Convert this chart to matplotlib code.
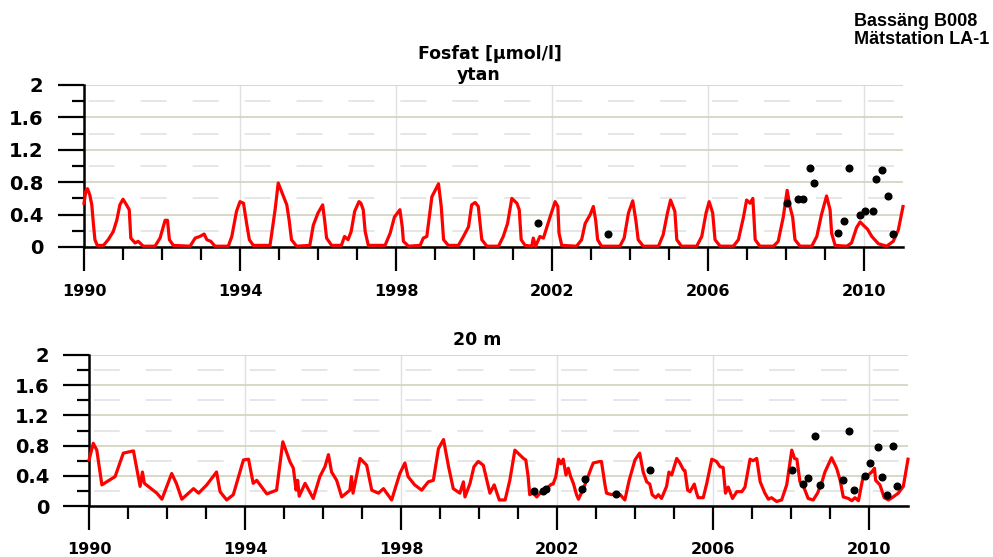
import matplotlib as mpl
mpl.use('Agg')
import matplotlib.pyplot as plt
from matplotlib.ticker import FuncFormatter, MultipleLocator

plt.rcParams['font.family'] = ['DejaVu Sans']
plt.rcParams['font.weight'] = 'bold'
plt.rcParams['lines.scale_dashes'] = False

# modelled surface phosphate (decimal year, umol/l)
top_t = [1990.0, 1990.05, 1990.09, 1990.15, 1990.2, 1990.24, 1990.28, 1990.34, 1990.5, 1990.62,
         1990.75, 1990.84, 1990.92, 1991.0, 1991.09, 1991.16, 1991.2, 1991.31, 1991.39, 1991.52,
         1991.82, 1991.95, 1992.08, 1992.14, 1992.19, 1992.29, 1992.72, 1992.85, 1992.97, 1993.08,
         1993.15, 1993.25, 1993.36, 1993.7, 1993.79, 1993.91, 1994.0, 1994.09, 1994.17, 1994.24,
         1994.34, 1994.77, 1994.9, 1994.98, 1995.07, 1995.2, 1995.26, 1995.32, 1995.45, 1995.79,
         1995.88, 1996.0, 1996.12, 1996.17, 1996.22, 1996.35, 1996.6, 1996.68, 1996.77, 1996.85,
         1996.94, 1997.05, 1997.1, 1997.16, 1997.21, 1997.29, 1997.72, 1997.85, 1997.96, 1998.1,
         1998.16, 1998.19, 1998.32, 1998.62, 1998.7, 1998.79, 1998.92, 1999.09, 1999.16, 1999.22,
         1999.34, 1999.6, 1999.73, 1999.86, 1999.94, 2000.03, 2000.11, 2000.2, 2000.33, 2000.63,
         2000.75, 2000.86, 2000.97, 2001.1, 2001.16, 2001.21, 2001.31, 2001.48, 2001.52, 2001.58,
         2001.69, 2001.78, 2001.95, 2002.08, 2002.15, 2002.18, 2002.25, 2002.63, 2002.76, 2002.85,
         2002.98, 2003.06, 2003.12, 2003.17, 2003.27, 2003.74, 2003.85, 2003.96, 2004.07, 2004.15,
         2004.21, 2004.34, 2004.73, 2004.85, 2004.96, 2005.04, 2005.15, 2005.2, 2005.32, 2005.71,
         2005.84, 2005.95, 2006.03, 2006.12, 2006.18, 2006.31, 2006.65, 2006.78, 2006.91, 2006.99,
         2007.08, 2007.15, 2007.21, 2007.33, 2007.68, 2007.8, 2007.93, 2008.03, 2008.1, 2008.17,
         2008.23, 2008.36, 2008.66, 2008.79, 2008.91, 2009.04, 2009.13, 2009.17, 2009.26, 2009.56,
         2009.68, 2009.81, 2009.9, 2009.98, 2010.09, 2010.2, 2010.37, 2010.58, 2010.75, 2010.88,
         2011.0]
top_v = [0.54, 0.70, 0.72, 0.64, 0.52, 0.29, 0.09, 0.02, 0.02, 0.09,
         0.19, 0.33, 0.52, 0.59, 0.52, 0.46, 0.11, 0.05, 0.07, 0.01,
         0.01, 0.11, 0.33, 0.33, 0.09, 0.02, 0.01, 0.11, 0.13, 0.16,
         0.09, 0.07, 0.01, 0.01, 0.13, 0.44, 0.56, 0.54, 0.29, 0.09,
         0.02, 0.02, 0.46, 0.79, 0.68, 0.52, 0.33, 0.09, 0.01, 0.02,
         0.27, 0.42, 0.52, 0.33, 0.11, 0.02, 0.02, 0.13, 0.09, 0.19,
         0.44, 0.56, 0.54, 0.46, 0.19, 0.02, 0.02, 0.17, 0.37, 0.46,
         0.25, 0.07, 0.01, 0.02, 0.11, 0.13, 0.62, 0.78, 0.50, 0.09,
         0.02, 0.02, 0.13, 0.25, 0.52, 0.55, 0.50, 0.09, 0.01, 0.01,
         0.13, 0.29, 0.60, 0.54, 0.46, 0.09, 0.02, 0.01, 0.11, 0.01,
         0.13, 0.11, 0.37, 0.56, 0.50, 0.17, 0.02, 0.01, 0.09, 0.29,
         0.40, 0.50, 0.33, 0.09, 0.01, 0.01, 0.11, 0.42, 0.57, 0.33,
         0.09, 0.01, 0.01, 0.15, 0.42, 0.58, 0.44, 0.09, 0.01, 0.01,
         0.13, 0.42, 0.56, 0.42, 0.09, 0.01, 0.01, 0.09, 0.37, 0.58,
         0.54, 0.60, 0.09, 0.01, 0.01, 0.07, 0.37, 0.70, 0.50, 0.37,
         0.09, 0.01, 0.01, 0.13, 0.40, 0.63, 0.46, 0.17, 0.02, 0.01,
         0.05, 0.24, 0.31, 0.27, 0.22, 0.13, 0.04, 0.01, 0.07, 0.21,
         0.50]

# modelled phosphate at 20 m
bot_t = [1990.0, 1990.11, 1990.2, 1990.33, 1990.67, 1990.88, 1991.14, 1991.31, 1991.37, 1991.42,
         1991.74, 1991.87, 1992.12, 1992.24, 1992.38, 1992.68, 1992.81, 1993.02, 1993.27, 1993.36,
         1993.53, 1993.7, 1993.96, 1994.09, 1994.21, 1994.3, 1994.56, 1994.81, 1994.97, 1995.15,
         1995.24, 1995.31, 1995.35, 1995.39, 1995.54, 1995.75, 1995.92, 1996.05, 1996.14, 1996.22,
         1996.35, 1996.48, 1996.69, 1996.73, 1996.77, 1996.95, 1997.12, 1997.25, 1997.42, 1997.55,
         1997.76, 1997.97, 1998.1, 1998.18, 1998.35, 1998.53, 1998.7, 1998.83, 1998.96, 1999.09,
         1999.22, 1999.34, 1999.51, 1999.6, 1999.64, 1999.77, 1999.87, 1999.98, 2000.11, 2000.28,
         2000.39, 2000.52, 2000.67, 2000.79, 2000.92, 2001.0, 2001.14, 2001.2, 2001.26, 2001.3,
         2001.39, 2001.48, 2001.6, 2001.73, 2001.86, 2001.9, 2001.97, 2002.04, 2002.1, 2002.16,
         2002.23, 2002.29, 2002.35, 2002.42, 2002.5, 2002.55, 2002.66, 2002.76, 2002.89, 2002.93,
         2003.1, 2003.14, 2003.23, 2003.27, 2003.4, 2003.51, 2003.62, 2003.74, 2003.85, 2004.0,
         2004.12, 2004.21, 2004.3, 2004.38, 2004.44, 2004.53, 2004.6, 2004.68, 2004.81, 2004.87,
         2004.94, 2005.07, 2005.15, 2005.24, 2005.28, 2005.35, 2005.41, 2005.52, 2005.58, 2005.62,
         2005.75, 2005.84, 2005.97, 2006.09, 2006.18, 2006.26, 2006.32, 2006.39, 2006.5, 2006.61,
         2006.74, 2006.82, 2006.95, 2007.03, 2007.12, 2007.21, 2007.33, 2007.42, 2007.5, 2007.63,
         2007.76, 2007.89, 2008.02, 2008.09, 2008.15, 2008.23, 2008.32, 2008.44, 2008.57, 2008.68,
         2008.79, 2008.87, 2009.04, 2009.17, 2009.26, 2009.34, 2009.47, 2009.56, 2009.64, 2009.73,
         2009.85, 2009.98, 2010.07, 2010.14, 2010.17, 2010.28, 2010.39, 2010.5, 2010.62, 2010.75,
         2010.88, 2011.0]
bot_v = [0.61, 0.83, 0.74, 0.28, 0.39, 0.70, 0.73, 0.26, 0.45, 0.30,
         0.17, 0.09, 0.43, 0.30, 0.09, 0.23, 0.17, 0.28, 0.45, 0.19,
         0.08, 0.15, 0.61, 0.62, 0.30, 0.34, 0.16, 0.21, 0.85, 0.59,
         0.50, 0.21, 0.34, 0.13, 0.30, 0.10, 0.39, 0.52, 0.68, 0.45,
         0.34, 0.12, 0.21, 0.39, 0.17, 0.63, 0.54, 0.21, 0.17, 0.23,
         0.08, 0.43, 0.57, 0.39, 0.28, 0.21, 0.32, 0.34, 0.76, 0.88,
         0.52, 0.23, 0.17, 0.32, 0.12, 0.30, 0.52, 0.59, 0.54, 0.17,
         0.28, 0.08, 0.08, 0.34, 0.74, 0.70, 0.63, 0.61, 0.39, 0.15,
         0.17, 0.12, 0.19, 0.23, 0.29, 0.29, 0.39, 0.62, 0.56, 0.62,
         0.41, 0.50, 0.39, 0.30, 0.15, 0.09, 0.21, 0.34, 0.52, 0.57,
         0.59, 0.59, 0.28, 0.17, 0.15, 0.17, 0.15, 0.08, 0.34, 0.61,
         0.70, 0.45, 0.32, 0.29, 0.15, 0.11, 0.15, 0.10, 0.26, 0.45,
         0.41, 0.63, 0.57, 0.48, 0.47, 0.21, 0.19, 0.29, 0.17, 0.11,
         0.11, 0.30, 0.62, 0.59, 0.52, 0.51, 0.17, 0.25, 0.10, 0.19,
         0.19, 0.25, 0.62, 0.60, 0.63, 0.32, 0.17, 0.09, 0.11, 0.06,
         0.08, 0.28, 0.74, 0.63, 0.62, 0.32, 0.26, 0.10, 0.08, 0.17,
         0.31, 0.45, 0.64, 0.50, 0.34, 0.12, 0.10, 0.07, 0.11, 0.07,
         0.39, 0.41, 0.45, 0.50, 0.34, 0.28, 0.11, 0.08, 0.12, 0.17,
         0.26, 0.62]

# measured samples
top_obs_t = [2001.64, 2003.44, 2008.03, 2008.31, 2008.44, 2008.62, 2008.72, 2009.33, 2009.49,
             2009.62, 2009.9, 2010.03, 2010.23, 2010.31, 2010.46, 2010.62, 2010.74]
top_obs_v = [0.30, 0.16, 0.54, 0.59, 0.59, 0.98, 0.79, 0.17, 0.32,
             0.98, 0.39, 0.44, 0.45, 0.84, 0.95, 0.63, 0.16]
bot_obs_t = [2001.41, 2001.64, 2001.72, 2002.64, 2002.72, 2003.51, 2004.38, 2008.03, 2008.31,
             2008.44, 2008.62, 2008.74, 2009.33, 2009.49, 2009.62, 2009.9, 2010.03, 2010.23,
             2010.33, 2010.46, 2010.62, 2010.72]
bot_obs_v = [0.20, 0.20, 0.23, 0.23, 0.36, 0.16, 0.48, 0.48, 0.29,
             0.37, 0.93, 0.28, 0.34, 0.99, 0.21, 0.40, 0.57, 0.78,
             0.39, 0.15, 0.79, 0.27]

W, H = 993, 557


def px_box(left, top, right, bottom):
    return [left / W, 1 - bottom / H, (right - left) / W, (bottom - top) / H]


def style_axes(ax, ypad, xpad):
    ax.set_xlim(1990, 2011)
    ax.set_ylim(0, 2)
    ax.spines['top'].set_visible(False)
    ax.spines['right'].set_visible(False)
    for s in ('left', 'bottom'):
        ax.spines[s].set_linewidth(1.8)
    ax.set_xticks([1990, 1994, 1998, 2002, 2006, 2010])
    ax.set_xticks([y for y in range(1991, 2010) if (y - 1990) % 4], minor=True)
    ax.yaxis.set_major_locator(MultipleLocator(0.4))
    ax.yaxis.set_minor_locator(MultipleLocator(0.2))
    ax.yaxis.set_major_formatter(FuncFormatter(lambda v, p: '%g' % round(v, 1)))
    ax.tick_params(axis='y', which='major', length=19, width=1.6, labelsize=14, pad=ypad)
    ax.tick_params(axis='y', which='minor', length=9, width=1.6)
    ax.tick_params(axis='x', which='major', length=17, width=1.6, labelsize=11.5, pad=xpad)
    ax.tick_params(axis='x', which='minor', length=9, width=1.6)
    ax.set_axisbelow(True)
    ax.yaxis.grid(True, which='major', color='#d5d5c2', lw=1.3)
    ax.yaxis.grid(True, which='minor', color='#e4e4e4', lw=1.3, linestyle=(34, (18.7, 18.7)))
    ax.xaxis.grid(True, which='major', color='#e0e0e0', lw=1.0)


fig = plt.figure(figsize=(W / 100, H / 100), dpi=100)
ax1 = fig.add_axes(px_box(84, 85, 903, 247))
ax2 = fig.add_axes(px_box(89, 355, 908, 506))
style_axes(ax1, 10.5, 10)
style_axes(ax2, 9.5, 9)

for ax, t, v, ot, ov in [(ax1, top_t, top_v, top_obs_t, top_obs_v),
                         (ax2, bot_t, bot_v, bot_obs_t, bot_obs_v)]:
    ax.plot(t, v, color='#ff0000', lw=2.3, clip_on=False, zorder=3)
    ax.plot(ot, ov, 'o', color='black', ms=4.8, clip_on=False, zorder=4)

fig.text(490 / W, 1 - 59 / H, 'Fosfat [µmol/l]', ha='center', va='baseline', fontsize=12.5)
fig.text(479 / W, 1 - 80 / H, 'ytan', ha='center', va='baseline', fontsize=12.5)
fig.text(477 / W, 1 - 345 / H, '20 m', ha='center', va='baseline', fontsize=12.5)
fig.text(854 / W, 1 - 26 / H, 'Bassäng B008', ha='left', va='baseline', fontsize=13,
         family='Liberation Sans')
fig.text(854 / W, 1 - 44 / H, 'Mätstation LA-1', ha='left', va='baseline', fontsize=13,
         family='Liberation Sans')

fig.savefig('out.png', dpi=100)
